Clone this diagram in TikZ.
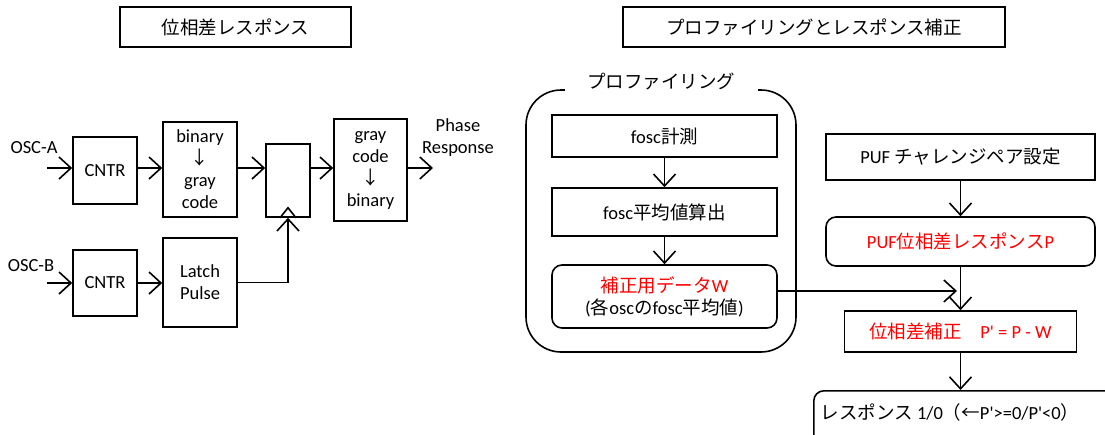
\documentclass[tikz,border=0pt]{standalone}
\usepackage{fontspec}
\setmainfont{Carlito}
\newfontfamily\jp{Noto Sans CJK JP}
\usetikzlibrary{arrows.meta}
\newcommand\qs{\textquotesingle}
\begin{document}
\begin{tikzpicture}[x=1pt,y=-1pt,
  font=\fontsize{18.5}{22}\selectfont,
  box/.style={draw, line width=1.6pt, inner sep=0pt, align=center},
  rbox/.style={box, rounded corners=10pt},
  ln/.style={line width=1.6pt},
  arr/.style={ln, -{Straight Barb[length=12pt,width=22pt,line width=1.6pt]}},
  red/.style={text=red}]
\useasboundingbox (0,0) rectangle (1105,434);
\clip (0,0) rectangle (1105,434);

% ---------- titles ----------
\node[box, minimum width=231, minimum height=40] (titleL) at (235.5,27) {\jp 位相差レスポンス};
\node[box, minimum width=382, minimum height=40] (titleR) at (814,27) {\jp プロファイリングとレスポンス補正};

% ---------- phase response circuit ----------
\node[box, minimum width=64, minimum height=67] (cntrA) at (105,170.5) {CNTR};
\node[box, minimum width=74, minimum height=95] (b2g) at (200,169.5) {binary\\{\jp ↓}\\gray\\code};
\node[box, minimum width=44, minimum height=73] (latch) at (288,180.5) {};
\node[box, minimum width=73, minimum height=102] (g2b) at (370.5,170) {gray\\code\\{\jp ↓}\\binary};
\node[align=center] (phase) at (458,138) {Phase\\Response};

\node[box, minimum width=64, minimum height=66] (cntrB) at (105,283) {CNTR};
\node[box, minimum width=74, minimum height=89] (pulse) at (200,282.5) {Latch\\Pulse};

\node (oscA) at (34,148) {OSC-A};
\node (oscB) at (31,266) {OSC-B};

\coordinate (rowA) at (0,168);
\coordinate (oscAin) at (47,168);
\coordinate (oscBin) at (47,283);
\coordinate (phaseout) at (433,168);

\draw[arr] (oscAin) -- (cntrA.west |- rowA);
\draw[arr] (cntrA.east |- rowA) -- (b2g.west |- rowA);
\draw[arr] (b2g.east |- rowA) -- (latch.west |- rowA);
\draw[arr] (latch.east |- rowA) -- (g2b.west |- rowA);
\draw[arr] (g2b.east |- rowA) -- (phaseout);

\draw[arr] (oscBin) -- (cntrB.west |- oscBin);
\draw[arr] (cntrB.east |- oscBin) -- (pulse.west |- oscBin);
\draw[arr] (pulse.east) -| (latch.south);

% clock input mark of the latch
\draw[ln] (latch.south) ++(-8,0) -- ++(8,-10) -- ++(8,10);

% ---------- profiling ----------
\draw[ln, rounded corners=35pt] (526,90) rectangle (796,352);
\node[fill=white, minimum width=193, minimum height=24, inner sep=0pt] (proftitle) at (661,81) {\jp プロファイリング};

\node[box, minimum width=225, minimum height=42] (fosc1) at (664.5,136) {fosc{\jp 計測}};
\node[box, minimum width=225, minimum height=48] (fosc2) at (664.5,212) {fosc{\jp 平均値算出}};
\node[rbox, minimum width=225, minimum height=63] (hosei) at (664.5,296.5)
  {{\color{red}{\jp 補正用データ}W}\\({\jp 各}osc{\jp の}fosc{\jp 平均値})};

\draw[arr] (fosc1) -- (fosc2);
\draw[arr] (fosc2) -- (hosei);

% ---------- response correction ----------
\node[box, minimum width=269, minimum height=46] (puf) at (960.5,157) {PUF {\jp チャレンジペア設定}};
\node[rbox, minimum width=269, minimum height=49, red] (pufP) at (960.5,241.5) {PUF{\jp 位相差レスポンス}P};
\node[box, minimum width=232, minimum height=41, red] (corr) at (960.5,331.5) {{\jp 位相差補正}\quad P\qs{} = P - W};
\node[rbox, minimum width=302, minimum height=60, anchor=north west] (resp) at (813,390) {};
\node (resptext) at (950,412) {{\jp レスポンス} 1/0{\jp （←}P\qs{}>=0/P\qs{}<0{\jp ）}};

\coordinate (merge) at (957,291);
\draw[arr] (puf) -- (pufP);
\draw[arr] (pufP) -- (corr);
\draw[arr] (hosei.east |- merge) -- (merge);
\draw[arr] (corr.south) -- (corr.south |- resp.north);
\end{tikzpicture}
\end{document}
